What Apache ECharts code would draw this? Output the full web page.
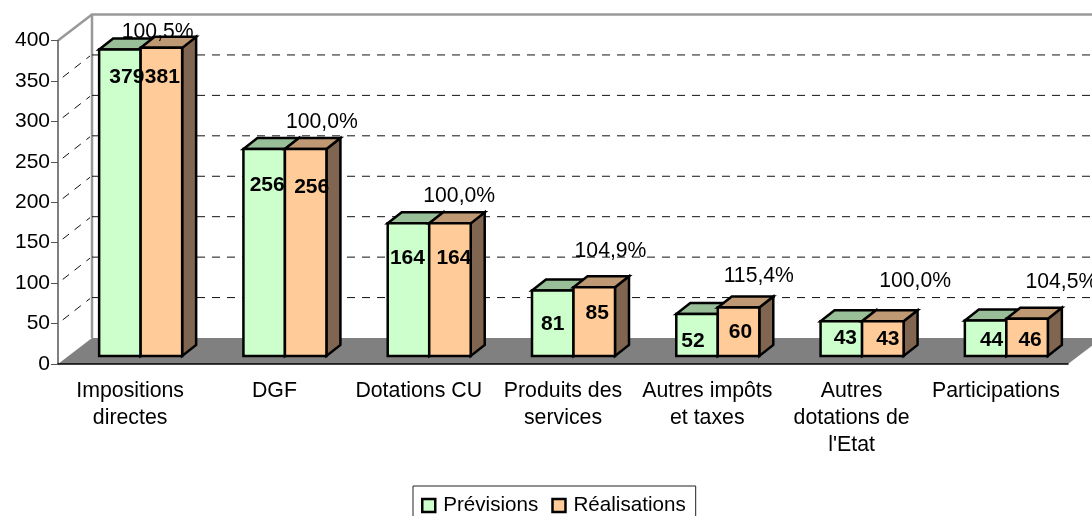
<!DOCTYPE html>
<html><head><meta charset="utf-8">
<style>html,body{margin:0;padding:0;background:#fff;overflow:hidden}#c{width:1092px;height:516px}</style>
<script src="https://cdn.jsdelivr.net/npm/echarts@6/dist/echarts.min.js"></script>
</head><body><div id="c"></div>
<script>
const categories = ['Impositions\ndirectes','DGF','Dotations CU','Produits des\nservices','Autres impôts\net taxes','Autres\ndotations de\nl\'Etat','Participations'];
const previsions = [379,256,164,81,52,43,44];
const realisations = [381,256,164,85,60,43,46];
const ratios = ['100,5%','100,0%','100,0%','104,9%','115,4%','100,0%','104,5%'];
const yTicks = [50,100,150,200,250,300,350];

// layout constants (pixels)
const WALL = {dx:34, dy:-26};
const BAR = {w:41.5, dx:14, dy:-11, shiftX:10.5, shiftY:-8};
const FONT = 'Liberation Sans, Arial, sans-serif';
const prevLabelPos = [[7,28],[3,36],[-1,35],[0,34],[-4,27],[4,17],[6,20]];
const realLabelPos = [[1,29],[6,38],[4,35],[3,26],[2,25],[5,18],[3,21]];
const ratioPos = [[17,-24],[37,-35],[30,-35],[37,-44],[41,-39],[53,-48],[55,-45]];

const chart = echarts.init(document.getElementById('c'), null, {renderer:'canvas'});

function frame(params, api){
  const o = api.coord([0,0]);
  const w = api.size([1,0])[0]*categories.length;
  const left = o[0]-api.size([1,0])[0]/2;
  const y0 = o[1];
  const yTop = api.coord([0,400])[1];
  const b = {x:left+WALL.dx, y0:y0+WALL.dy, yTop:yTop+WALL.dy};
  const line = {stroke:'#999', lineWidth:2.5};
  return {type:'group', children:[
    {type:'polygon', shape:{points:[[left,y0],[left+w,y0],[left+w+WALL.dx,b.y0],[b.x,b.y0]]}, style:{fill:'#808080'}},
    {type:'polyline', shape:{points:[[left,yTop],[b.x,b.yTop],[1092,b.yTop]]}, style:{fill:null,...line}},
    {type:'line', shape:{x1:b.x,y1:b.yTop,x2:b.x,y2:b.y0}, style:line}
  ]};
}
function gridItem(params, api){
  const v = api.value(0);
  const o = api.coord([0,v]);
  const left = o[0]-api.size([1,0])[0]/2;
  const y = o[1];
  const st = {stroke:'#111', lineWidth:1, lineDash:[8,7]};
  return {type:'group', children:[
    {type:'line', shape:{x1:left,y1:y,x2:left+WALL.dx-2,y2:y+WALL.dy+1}, style:{stroke:'#111',lineWidth:1,lineDash:[8,7],lineDashOffset:-6}},
    {type:'line', shape:{x1:left+WALL.dx,y1:y+WALL.dy,x2:1092,y2:y+WALL.dy}, style:st}
  ]};
}
function barRenderer(dir, front, top, side){
  return function(params, api){
    const c = api.value(0), v = api.value(1);
    const p = api.coord([c,v]), z = api.coord([c,0]);
    const x0 = p[0]+BAR.shiftX+(dir<0?-BAR.w:0), x1 = x0+BAR.w;
    const yt = p[1]+BAR.shiftY, yb = z[1]+BAR.shiftY;
    const edge = {stroke:'#000', lineWidth:2.5, lineJoin:'miter'};
    return {type:'group', children:[
      {type:'polygon', shape:{points:[[x1,yt],[x1+BAR.dx,yt+BAR.dy],[x1+BAR.dx,yb+BAR.dy],[x1,yb]]}, style:{fill:side,...edge}},
      {type:'polygon', shape:{points:[[x0,yt],[x1,yt],[x1+BAR.dx,yt+BAR.dy],[x0+BAR.dx,yt+BAR.dy]]}, style:{fill:top,...edge}},
      {type:'rect', shape:{x:x0,y:yt,width:BAR.w,height:yb-yt}, style:{fill:front,...edge}}
    ]};
  };
}
function valueLabels(dir, pos){
  return function(params, api){
    const c = api.value(0), v = api.value(1);
    const p = api.coord([c,v]);
    return {type:'text', style:{text:String(v), x:p[0]+BAR.shiftX+dir*BAR.w/2+pos[c][0], y:p[1]+BAR.shiftY+pos[c][1],
      fill:'#000', font:'bold 21px '+FONT, align:'center', verticalAlign:'middle'}};
  };
}
function ratioLabel(params, api){
  const c = api.value(0), v = api.value(1);
  const p = api.coord([c,v]);
  return {type:'text', style:{text:ratios[c], x:p[0]+ratioPos[c][0]+BAR.shiftX, y:p[1]+ratioPos[c][1],
    fill:'#000', font:'21.2px '+FONT, align:'center', verticalAlign:'middle'}};
}
const pair = a => a.map((v,i)=>[i,v]);
const common = {type:'custom', coordinateSystem:'cartesian2d', silent:true, clip:false, animation:false};

chart.setOption({
  animation:false,
  backgroundColor:'#fff',
  textStyle:{fontFamily:FONT},
  grid:{left:58,right:24,top:40.5,bottom:152,containLabel:false},
  legend:{
    data:['Prévisions','Réalisations'], left:413, top:486,
    padding:[9,10,14,8], itemWidth:13, itemHeight:13, itemGap:13,
    borderColor:'#222', borderWidth:1, backgroundColor:'#fff', icon:'rect',
    itemStyle:{borderColor:'#000',borderWidth:2.5},
    selectedMode:false,
    textStyle:{fontSize:20.6,color:'#000',fontFamily:FONT,padding:[0,0,0,3]}
  },
  xAxis:{type:'category',data:categories,z:5,
    axisLine:{lineStyle:{color:'#000',width:1.5}},
    axisTick:{length:7,lineStyle:{color:'#555',width:1}},
    axisLabel:{interval:0,margin:14,fontSize:21.3,lineHeight:27,color:'#000',fontFamily:FONT,verticalAlign:'top'}},
  yAxis:{type:'value',min:0,max:400,interval:50,z:5,
    axisLine:{show:true,lineStyle:{color:'#555',width:1.5}},
    axisTick:{show:true,length:7,lineStyle:{color:'#555',width:1}},
    splitLine:{show:false},
    axisLabel:{fontSize:21,color:'#000',margin:8,fontFamily:FONT}},
  series:[
    {...common,name:'frame',data:[[0]],renderItem:frame,z:1},
    {...common,name:'grid',data:yTicks.map(v=>[v]),renderItem:gridItem,z:2,encode:{x:[],y:0}},
    {...common,name:'Prévisions',data:pair(previsions),itemStyle:{color:'#CCFFCC',borderColor:'#000',borderWidth:2.5},
      renderItem:barRenderer(-1,'#CCFFCC','#99BF99','#668066'),z:3,encode:{x:0,y:1}},
    {...common,name:'Réalisations',data:pair(realisations),itemStyle:{color:'#FFCC99',borderColor:'#000',borderWidth:2.5},
      renderItem:barRenderer(1,'#FFCC99','#BF9973','#806650'),z:4,encode:{x:0,y:1}},
    {...common,name:'prevLabels',data:pair(previsions),renderItem:valueLabels(-1,prevLabelPos),z:6,encode:{x:0,y:1}},
    {...common,name:'realLabels',data:pair(realisations),renderItem:valueLabels(1,realLabelPos),z:6,encode:{x:0,y:1}},
    {...common,name:'ratios',data:pair(realisations),renderItem:ratioLabel,z:6,encode:{x:0,y:1}}
  ]
});
</script></body></html>
